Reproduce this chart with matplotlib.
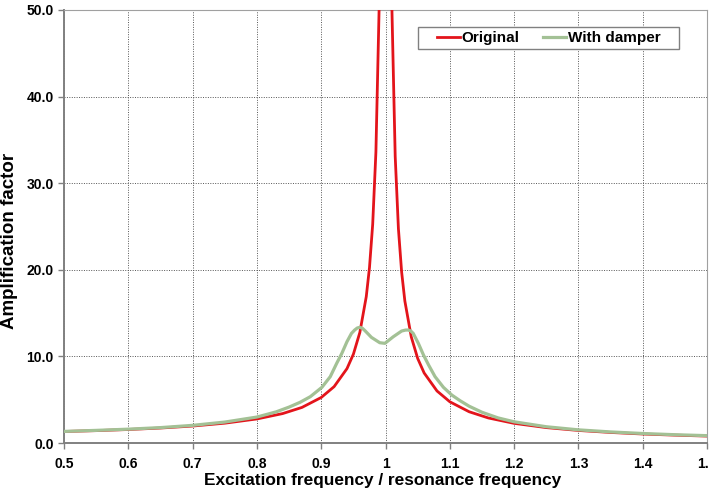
import matplotlib
matplotlib.use('Agg')
import matplotlib.pyplot as plt
from matplotlib.patches import Rectangle
from matplotlib.ticker import MultipleLocator, FuncFormatter

plt.rcParams['font.family'] = ['Liberation Sans', 'DejaVu Sans']

# Frequency ratio / amplification factor
x_orig = [0.50, 0.55, 0.60, 0.65, 0.70, 0.75, 0.80, 0.84, 0.87, 0.90, 0.92, 0.94,
          0.95, 0.96, 0.97, 0.975, 0.98, 0.985, 0.99, 0.995, 1.00, 1.005, 1.01,
          1.015, 1.02, 1.025, 1.03, 1.04, 1.05, 1.06, 1.08, 1.10, 1.13, 1.16,
          1.20, 1.25, 1.30, 1.35, 1.40, 1.45, 1.50]
y_orig = [1.33, 1.43, 1.56, 1.73, 1.96, 2.29, 2.78, 3.40, 4.11, 5.26, 6.51, 8.59,
          10.26, 12.76, 16.9, 20.25, 25.25, 33.6, 50.2, 100.0, 120.0, 100.0, 49.75,
          33.1, 24.75, 19.75, 16.4, 12.25, 9.76, 8.09, 6.01, 4.76, 3.61, 2.89,
          2.27, 1.78, 1.45, 1.22, 1.04, 0.91, 0.80]

x_damp = [0.50, 0.55, 0.60, 0.65, 0.70, 0.75, 0.80, 0.83, 0.85, 0.867, 0.883,
          0.901, 0.914, 0.924, 0.932, 0.940, 0.947, 0.952, 0.956, 0.960, 0.964,
          0.968, 0.978, 0.991, 0.999, 1.012, 1.025, 1.031, 1.035, 1.039, 1.043,
          1.051, 1.059, 1.067, 1.077, 1.090, 1.103, 1.116, 1.13, 1.15, 1.175,
          1.20, 1.25, 1.30, 1.35, 1.40, 1.45, 1.50]
y_damp = [1.34, 1.46, 1.60, 1.78, 2.04, 2.42, 3.00, 3.60, 4.15, 4.70, 5.35,
          6.43, 7.66, 9.20, 10.35, 11.7, 12.66, 13.05, 13.28, 13.36, 13.25,
          12.97, 12.2, 11.58, 11.51, 12.27, 12.93, 13.04, 13.05, 12.95, 12.66,
          11.51, 10.16, 9.0, 7.66, 6.43, 5.54, 4.88, 4.25, 3.55, 2.90,
          2.45, 1.88, 1.52, 1.28, 1.10, 0.96, 0.85]

fig = plt.figure(figsize=(7.09, 4.94), dpi=100)
ax = fig.add_axes([0.0903, 0.1032, 0.907, 0.8766])

ax.plot(x_orig, y_orig, color='#e3141b', lw=2.0, label='Original', zorder=3)
ax.plot(x_damp, y_damp, color='#a3c195', lw=2.3, label='With damper', zorder=4)

ax.set_xlim(0.5, 1.5)
ax.set_ylim(0, 50)
ax.xaxis.set_major_locator(MultipleLocator(0.1))
ax.yaxis.set_major_locator(MultipleLocator(10))
ax.xaxis.set_major_formatter(FuncFormatter(lambda v, p: '1' if abs(v - 1) < 1e-9 else '%.1f' % v))
ax.yaxis.set_major_formatter(FuncFormatter(lambda v, p: '%.1f' % v))
ax.grid(True, color='#555555', ls=(0, (1, 1.5)), lw=0.7)

for s in ax.spines.values():
    s.set_color('#a0a0a0')
ax.spines['left'].set_color('#808080')
ax.spines['bottom'].set_color('#808080')
ax.spines['left'].set_linewidth(1.4)
ax.spines['bottom'].set_linewidth(1.4)
ax.tick_params(axis='both', direction='out', length=4, width=1, color='#808080',
               labelsize=10)
ax.tick_params(axis='x', pad=6)
for lab in ax.get_xticklabels() + ax.get_yticklabels():
    lab.set_fontweight('bold')

ax.set_xlabel('Excitation frequency / resonance frequency', fontsize=12.4,
              fontweight='bold')
ax.xaxis.set_label_coords(0.495, -0.07)
ax.set_ylabel('Amplification factor', fontsize=13.5, fontweight='bold')
ax.yaxis.set_label_coords(-0.072, 0.466)

# legend box, as in the reference
ax.add_patch(Rectangle((0.5505, 0.9099), 0.406, 0.0508, transform=ax.transAxes,
                       facecolor='white', edgecolor='#808080', lw=1.0, zorder=5))
leg = ax.legend(loc='center', bbox_to_anchor=(0.7535, 0.9353), ncol=2,
                frameon=False, prop={'weight': 'bold', 'size': 11},
                handlelength=1.5, handletextpad=0.1, columnspacing=1.6,
                borderpad=0.2)
leg.set_zorder(6)

fig.savefig('out.png', dpi=100)
